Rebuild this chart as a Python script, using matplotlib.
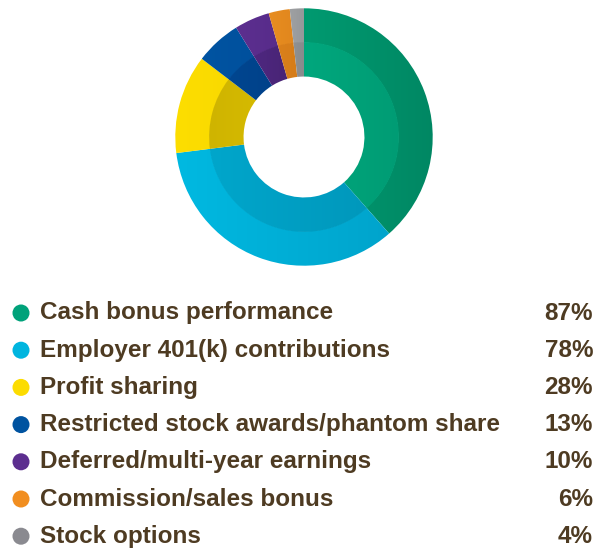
import numpy as np
import matplotlib.pyplot as plt
from matplotlib.colors import LinearSegmentedColormap

categorias = ['Cash bonus performance', 'Employer 401(k) contributions', 'Profit sharing',
              'Restricted stock awards/phantom share', 'Deferred/multi-year earnings',
              'Commission/sales bonus', 'Stock options']
valores = [87, 78, 28, 13, 10, 6, 4]
rotulos = ['87%', '78%', '28%', '13%', '10%', '6%', '4%']

# cores: legenda, anel externo (esq -> dir), anel interno (esq -> dir)
cores = ['#00A27A', '#00B5DF', '#FCDC00', '#0053A0', '#5C2E8F', '#F18E20', '#8A8A90']
cores_ext = [('#009A70', '#008763'), ('#00B9E1', '#00A4CC'), ('#FDDE00', '#F4D400'),
             ('#0054A2', '#004C97'), ('#5C2F8F', '#552A88'), ('#E88D20', '#DE841D'),
             ('#9EA0A2', '#96989A')]
cores_int = [('#00A77D', '#009C74'), ('#00A6CB', '#0098BC'), ('#CFB400', '#DBBF00'),
             ('#004690', '#003E85'), ('#4E2780', '#46236F'), ('#DA801B', '#D47C19'),
             ('#8F9193', '#898B8D')]
cor_texto = '#4E3B22'

plt.rcParams['font.family'] = ['Liberation Sans', 'DejaVu Sans']

fig = plt.figure(figsize=(6.05, 5.48), dpi=100)

# donut
cx, cy, r = 304, 137, 130
ax = fig.add_axes([(cx - r) / 605, (548 - cy - r) / 548, 2 * r / 605, 2 * r / 548])
gradiente = np.linspace(0, 1, 256).reshape(1, -1)
for raio, pares in [(0.99, cores_ext), (0.73, cores_int)]:
    fatias, _ = ax.pie(valores, radius=raio, startangle=90, counterclock=False,
                       wedgeprops=dict(width=0.265, linewidth=0))
    for w, (c1, c2) in zip(fatias, pares):
        w.set_facecolor('none')
        caminho = w.get_path().vertices
        x0, x1 = caminho[:, 0].min(), caminho[:, 0].max()
        y0_, y1_ = caminho[:, 1].min(), caminho[:, 1].max()
        cmap = LinearSegmentedColormap.from_list('g', [c1, c2])
        ax.imshow(gradiente, cmap=cmap, extent=(x0, x1, y0_, y1_), aspect='auto',
                  clip_path=w, zorder=1)
ax.set_xlim(-1, 1)
ax.set_ylim(-1, 1)
ax.set_aspect('equal')
ax.axis('off')

# legenda
ax2 = fig.add_axes([0, 0, 1, 1])
ax2.set_xlim(0, 605)
ax2.set_ylim(548, 0)
ax2.axis('off')
y0, dy = 313, 37.2
for i, (cat, rot) in enumerate(zip(categorias, rotulos)):
    y = y0 + i * dy
    ax2.scatter(21, y, s=150, color=cores[i], edgecolors='none')
    ax2.text(40, y, cat, fontsize=17.5, fontweight='bold', color=cor_texto, va='center', ha='left')
    ax2.text(593, y, rot, fontsize=17.5, fontweight='bold', color=cor_texto, va='center', ha='right')

plt.savefig('out.png', dpi=100)
